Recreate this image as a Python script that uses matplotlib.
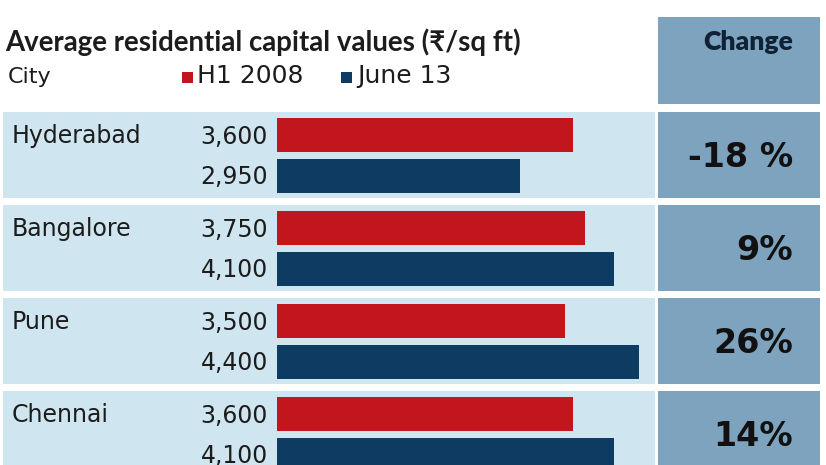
import matplotlib
matplotlib.use("Agg")
import matplotlib.pyplot as plt
from matplotlib.patches import Rectangle
from matplotlib import font_manager as fm
import numpy as np

# ---- data ----
cities = ["Hyderabad", "Bangalore", "Pune", "Chennai"]
h1_2008 = [3600, 3750, 3500, 3600]
june_13 = [2950, 4100, 4400, 4100]
change_labels = ["-18 %", "9%", "26%", "14%"]
series_names = ["H1 2008", "June 13"]
title = "Average residential capital values (\u20b9/sq ft)"
header = "Change"
first_col = "City"

RED = "#c1161e"
NAVY = "#0d3b61"
BAND = "#cfe6f0"
BOX = "#7ea3bf"
TXT = "#1c1c1c"

available = {f.name for f in fm.fontManager.ttflist}
prefs = ["Lato", "Fira Sans", "Roboto", "Noto Sans"]
HEAD = next((p for p in prefs if p in available), "DejaVu Sans")
HEAD_FAM = [HEAD, "DejaVu Sans"]

W, H = 826, 465
fig = plt.figure(figsize=(W / 100, H / 100), dpi=100)
fig.patch.set_facecolor("white")

bg = fig.add_axes([0, 0, 1, 1])
bg.set_xlim(0, W)
bg.set_ylim(H, 0)
bg.axis("off")

ROW0 = 155.0
PITCH = 93.0
BAND_H = 86.0

n = len(cities)
for i in range(n):
    c = ROW0 + PITCH * i
    bg.add_patch(Rectangle((3, c - BAND_H / 2), 652, BAND_H, facecolor=BAND, edgecolor="none"))
    bg.add_patch(Rectangle((658, c - BAND_H / 2), 162, BAND_H, facecolor=BOX, edgecolor="none"))

bg.add_patch(Rectangle((658, 17), 162, 87, facecolor=BOX, edgecolor="none"))

renderer = fig.canvas.get_renderer()


def fit(t, target_w, size):
    w = t.get_window_extent(renderer).width
    if w > 0:
        t.set_fontsize(size * target_w / w)


t_head = bg.text(748, 50, header, ha="center", va="baseline", fontsize=18, fontweight="heavy",
                 family=HEAD_FAM, color="#0f2236")
fit(t_head, 90, 18)

t_title = bg.text(5, 51, title, ha="left", va="baseline", fontsize=18.5, fontweight="bold",
                  family=HEAD_FAM, color=TXT)
fit(t_title, 517, 18.5)

bg.text(8, 83, first_col, ha="left", va="baseline", fontsize=16, color=TXT)

bg.add_patch(Rectangle((182, 72), 11, 11, facecolor=RED, edgecolor="none"))
bg.text(197, 83, series_names[0], ha="left", va="baseline", fontsize=18, color=TXT)
bg.add_patch(Rectangle((341, 72), 11, 11, facecolor=NAVY, edgecolor="none"))
bg.text(357, 83, series_names[1], ha="left", va="baseline", fontsize=18, color=TXT)

# bar axes: x=0 at px 277, 296 px per 3600 units
px_per_unit = 296.0 / 3600.0
ax_left_px, ax_right_px = 277.0, 655.0
ax_top_px, ax_bot_px = 105.0, 465.0
ax = fig.add_axes([ax_left_px / W, (H - ax_bot_px) / H,
                   (ax_right_px - ax_left_px) / W, (ax_bot_px - ax_top_px) / H])
ax.set_xlim(0, (ax_right_px - ax_left_px) / px_per_unit)
ax.set_ylim((ax_bot_px - ROW0) / PITCH, (ax_top_px - ROW0) / PITCH)
ax.axis("off")
ax.patch.set_alpha(0)

y = np.arange(n)
off = 20.5 / PITCH
bh = 34.0 / PITCH
ax.barh(y - off, h1_2008, height=bh, color=RED, edgecolor="none")
ax.barh(y + off, june_13, height=bh, color=NAVY, edgecolor="none")

for i in range(n):
    c = ROW0 + PITCH * i
    bg.text(12, c - off * PITCH + 1, cities[i], ha="left", va="center", fontsize=17, color=TXT)
    bg.text(268, c - off * PITCH + 2, f"{h1_2008[i]:,}", ha="right", va="center", fontsize=17, color=TXT)
    bg.text(268, c + off * PITCH + 1, f"{june_13[i]:,}", ha="right", va="center", fontsize=17, color=TXT)
    bg.text(793, c + 2, change_labels[i], ha="right", va="center", fontsize=24,
            fontweight="bold", color="#111111")

fig.savefig("out.png", dpi=100, facecolor="white")
